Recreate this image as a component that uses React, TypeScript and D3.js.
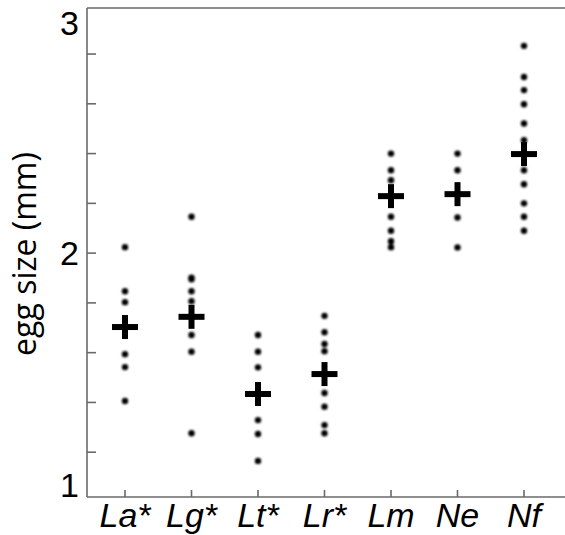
import React, { useRef, useEffect } from "react";
import * as d3 from "d3";

// species on the x axis
const species = ["La*", "Lg*", "Lt*", "Lr*", "Lm", "Ne", "Nf"];

// individual egg sizes (mm)
const eggLa = [2.024, 1.847, 1.803, 1.594, 1.542, 1.406];
const eggLg = [2.146, 1.901, 1.895, 1.847, 1.807, 1.671, 1.604, 1.276];
const eggLt = [1.671, 1.604, 1.541, 1.329, 1.273, 1.165];
const eggLr = [1.748, 1.682, 1.635, 1.606, 1.438, 1.383, 1.309, 1.276];
const eggLm = [2.4, 2.333, 2.293, 2.146, 2.09, 2.048, 2.024];
const eggNe = [2.4, 2.333, 2.143, 2.023];
const eggNf = [2.833, 2.708, 2.655, 2.598, 2.521, 2.454, 2.333, 2.277, 2.2, 2.146, 2.09];

// species means (the crosses)
const means = [1.703, 1.744, 1.434, 1.514, 2.229, 2.237, 2.398];

const yTicks = [1.2, 1.4, 1.6, 1.8, 2, 2.2, 2.4, 2.6, 2.8];
const yLabels = [1, 2, 3];

const App = () => {
    const svgRef = useRef<SVGSVGElement>(null);

    useEffect(() => {
        const svg = d3.select(svgRef.current);
        svg.selectAll("*").remove();

        const width = 565;
        const height = 535;
        const left = 87;
        const top = 8;
        const bottom = 497;
        const axisColor = "#6a6a6a";

        const x = d3.scalePoint().domain(species).range([125, 524]);
        const y = d3.scaleLinear().domain([1.02, 2.985]).range([bottom, top]);

        svg.attr("width", width).attr("height", height);

        // soft dots like the original
        svg.append("defs")
            .append("filter")
            .attr("id", "soft")
            .append("feGaussianBlur")
            .attr("stdDeviation", 0.9);

        // frame lines: top, bottom, left
        const frame = svg.append("g").attr("stroke", axisColor).attr("stroke-width", 1.6);
        frame.append("line").attr("x1", left).attr("x2", width).attr("y1", top).attr("y2", top);
        frame.append("line").attr("x1", left).attr("x2", width).attr("y1", bottom).attr("y2", bottom);
        frame.append("line").attr("x1", left).attr("x2", left).attr("y1", top).attr("y2", bottom);

        // y ticks (inside)
        frame.selectAll(".yt")
            .data(yTicks)
            .join("line")
            .attr("x1", left)
            .attr("x2", left + 9)
            .attr("y1", (d) => y(d))
            .attr("y2", (d) => y(d));

        // x ticks (inside)
        frame.selectAll(".xt")
            .data(species)
            .join("line")
            .attr("x1", (d) => x(d)!)
            .attr("x2", (d) => x(d)!)
            .attr("y1", bottom)
            .attr("y2", bottom - 7);

        // y labels, kept inside the frame at the ends
        svg.append("g")
            .selectAll("text")
            .data(yLabels)
            .join("text")
            .attr("x", 79)
            .attr("y", (d) => Math.min(Math.max(y(d), top + 15), bottom - 12))
            .attr("dy", "0.36em")
            .attr("text-anchor", "end")
            .style("font-family", "'Liberation Sans', Arial, sans-serif")
            .attr("font-size", 34)
            .text((d) => d);

        // x labels
        svg.append("g")
            .selectAll("text")
            .data(species)
            .join("text")
            .attr("x", (d) => x(d)!)
            .attr("y", 527)
            .attr("text-anchor", "middle")
            .style("font-family", "'Liberation Sans', Arial, sans-serif")
            .attr("font-style", "italic")
            .attr("font-size", 34)
            .text((d) => d);

        // axis title
        svg.append("text")
            .attr("transform", "translate(36,254) rotate(-90)")
            .attr("text-anchor", "middle")
            .style("font-family", "'Open Sans', sans-serif")
            .attr("font-size", 32)
            .text("egg size (mm)");

        // dots
        const groups = [eggLa, eggLg, eggLt, eggLr, eggLm, eggNe, eggNf];
        const points = groups.flatMap((vals, i) => vals.map((v) => ({ s: species[i], v })));
        svg.append("g")
            .attr("filter", "url(#soft)")
            .selectAll("circle")
            .data(points)
            .join("circle")
            .attr("cx", (d) => x(d.s)!)
            .attr("cy", (d) => y(d.v))
            .attr("r", 3.2)
            .attr("fill", "#000");

        // mean crosses
        const cross = svg.append("g").attr("stroke", "#000").attr("stroke-width", 6);
        means.forEach((m, i) => {
            const cx = x(species[i])!;
            const cy = y(m);
            cross.append("line").attr("x1", cx - 13).attr("x2", cx + 13).attr("y1", cy).attr("y2", cy);
            cross.append("line").attr("x1", cx).attr("x2", cx).attr("y1", cy - 12).attr("y2", cy + 12);
        });
    }, []);

    return <svg ref={svgRef} style={{ position: "absolute", left: 0, top: 0 }}></svg>;
};

export default App;
